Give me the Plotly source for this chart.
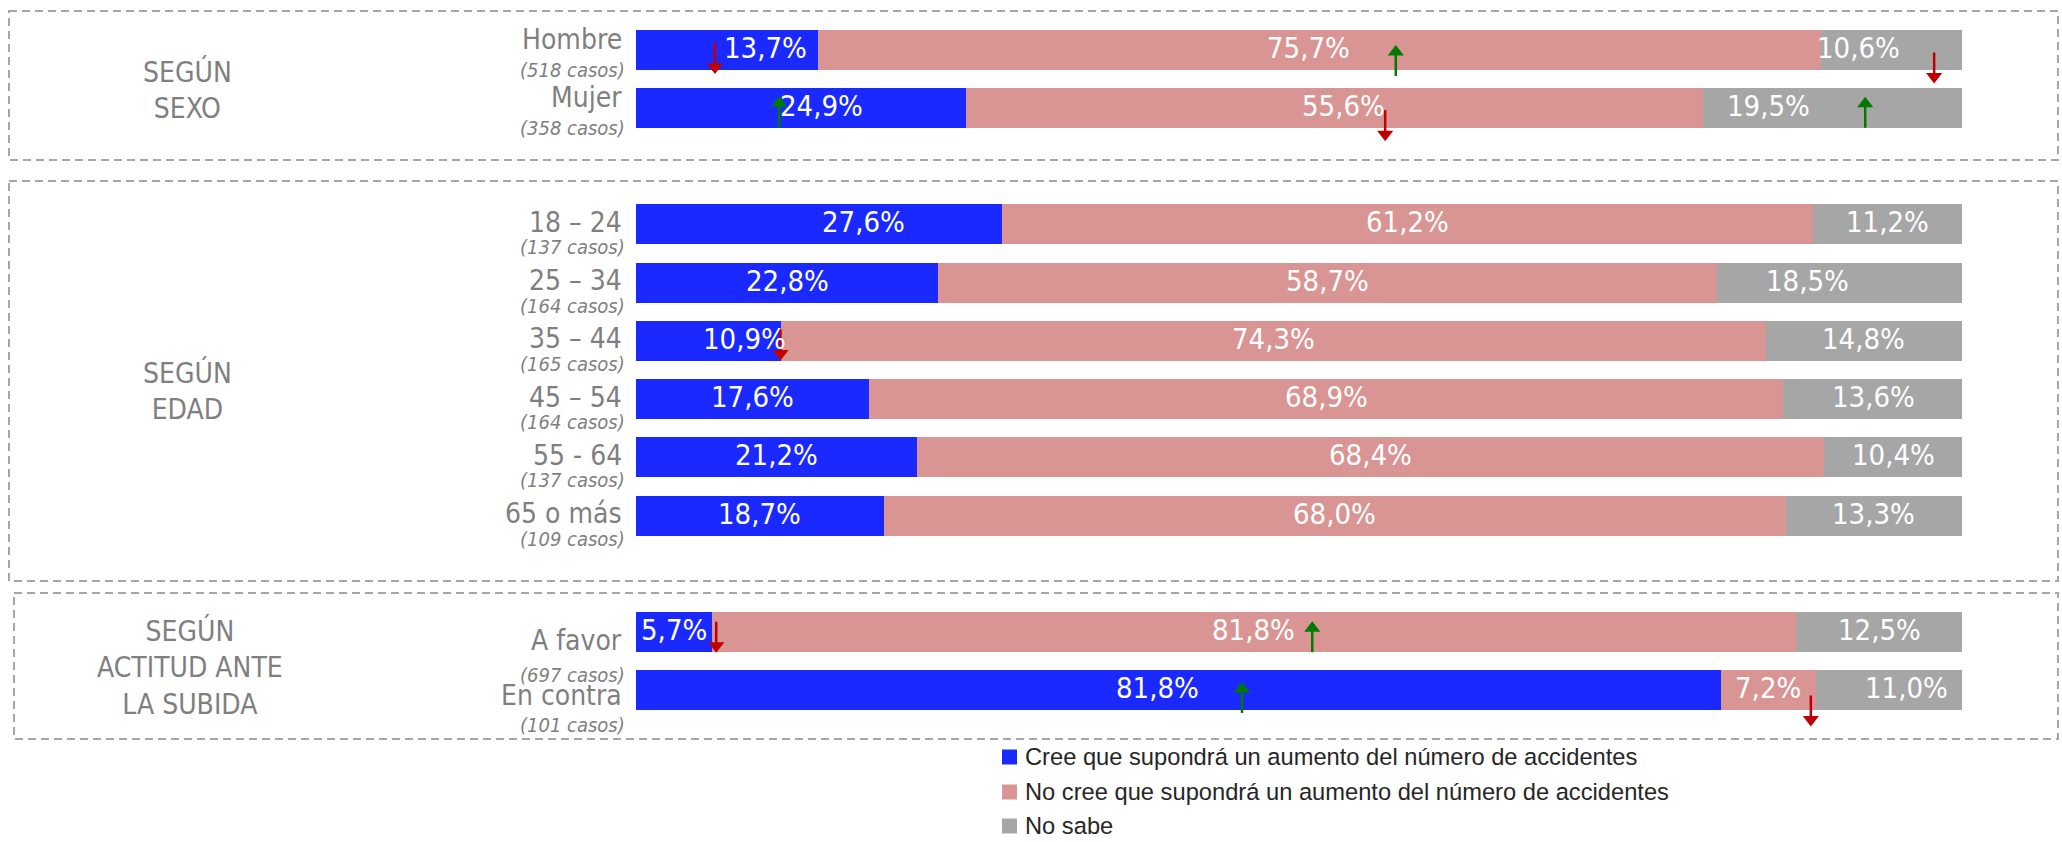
import plotly.graph_objects as go

# ---------------- data ----------------
categories = ["Hombre", "Mujer", "18 – 24", "25 – 34", "35 – 44", "45 – 54",
              "55 - 64", "65 o más", "A favor", "En contra"]
casos = [518, 358, 137, 164, 165, 164, 137, 109, 697, 101]
group_of = ["sexo", "sexo", "edad", "edad", "edad", "edad", "edad", "edad",
            "actitud", "actitud"]
group_titles = {"sexo": "SEGÚN<br>SEXO",
                "edad": "SEGÚN<br>EDAD",
                "actitud": "SEGÚN<br>ACTITUD ANTE<br>LA SUBIDA"}

series_names = ["Cree que supondrá un aumento del número de accidentes",
                "No cree que supondrá un aumento del número de accidentes",
                "No sabe"]
cree = [13.7, 24.9, 27.6, 22.8, 10.9, 17.6, 21.2, 18.7, 5.7, 81.8]
no_cree = [75.7, 55.6, 61.2, 58.7, 74.3, 68.9, 68.4, 68.0, 81.8, 7.2]
no_sabe = [10.6, 19.5, 11.2, 18.5, 14.8, 13.6, 10.4, 13.3, 12.5, 11.0]

# significance arrows
arrow_cat = ["Hombre", "Hombre", "Hombre", "Mujer", "Mujer", "Mujer",
             "35 – 44", "A favor", "A favor", "En contra", "En contra"]
arrow_x = [5.95, 57.3, 97.9, 10.8, 56.5, 92.7, 10.9, 6.05, 51.0, 45.7, 88.6]
arrow_dir = ["down", "up", "down", "up", "down", "up", "down", "down", "up",
             "up", "down"]

# ---------------- layout constants ----------------
W, H = 2062, 842
X0_PX, X1_PX = 636, 1962          # plot area horizontal extent
ROW0_PX, PITCH_PX = 49.5, 58.27   # first bar centre and row pitch
BAR_H_PX = 40
ARROW_HEAD_DY = [22.5, -2.5, 32, -9.5, 31.4, -9, 17.7, 18.6, -9, -6.5, 34]
ARROW_LEN = 29
# horizontal nudges (px) of a few value labels, as in the original
LABEL_XSHIFT = {("Hombre", 0): 39, ("Hombre", 1): -11, ("Hombre", 2): -33,
                ("Mujer", 0): 20, ("Mujer", 1): 9, ("Mujer", 2): -64,
                ("18 – 24", 0): 45, ("25 – 34", 2): -32, ("35 – 44", 0): 36,
                ("En contra", 0): -21, ("En contra", 2): 17}
# legend rows (px from top) and x positions
LEG_ROWS_PX = [757, 792, 826]
LEG_SQ_X, LEG_SQ = 1002, 15
LEG_TXT_X = 1023

NARROW = "Liberation Sans Narrow, Arial Narrow, DejaVu Sans Condensed, sans-serif"
REGULAR = "Liberation Sans, Arial, sans-serif"
GREY_TXT = "#7f7f7f"
COLORS = ["#1a29ff", "#d99594", "#a6a6a6"]
RED, GREEN = "#c00000", "#007a00"

# slot positions: consecutive rows inside a group, one empty slot between groups
slots = []
s = 0
prev = None
for g in group_of:
    if prev is not None and g != prev:
        s += 1
    slots.append(s)
    s += 1
    prev = g
slot_of = dict(zip(categories, slots))

y_top = -ROW0_PX / PITCH_PX
y_bot = (H - ROW0_PX) / PITCH_PX


def px2y(px):
    """pixel offset (down positive) -> y data units"""
    return px / PITCH_PX


def fmt(v):
    return f"{v:.1f}%".replace(".", ",")


series_vals = [cree, no_cree, no_sabe]

fig = go.Figure()
for name, vals, col in zip(series_names, series_vals, COLORS):
    fig.add_trace(go.Bar(
        y=slots, x=vals, name=name, orientation="h",
        width=BAR_H_PX / PITCH_PX,
        marker=dict(color=col, line=dict(width=0)),
        hovertext=[fmt(v) for v in vals], hoverinfo="text+name",
        showlegend=False,
    ))

# arrows: shaft (line) + head (triangle marker)
for d, col, sym in [("down", RED, "triangle-down"), ("up", GREEN, "triangle-up")]:
    lx, ly, mx, my = [], [], [], []
    for cat, ax_, dd, dy in zip(arrow_cat, arrow_x, arrow_dir, ARROW_HEAD_DY):
        if dd != d:
            continue
        base = slot_of[cat]
        if d == "down":
            tail, shaft_end, head_c = dy - ARROW_LEN, dy - 7, dy - 5
        else:
            tail, shaft_end, head_c = dy + ARROW_LEN, dy + 7, dy + 5
        lx += [ax_, ax_, None]
        ly += [base + px2y(tail), base + px2y(shaft_end), None]
        mx.append(ax_)
        my.append(base + px2y(head_c))
    fig.add_trace(go.Scatter(x=lx, y=ly, mode="lines", showlegend=False,
                             line=dict(color=col, width=2.5),
                             hoverinfo="skip", cliponaxis=False))
    fig.add_trace(go.Scatter(x=mx, y=my, mode="markers", showlegend=False,
                             marker=dict(symbol=sym, size=14, color=col,
                                         line=dict(width=0)),
                             hoverinfo="skip", cliponaxis=False))

annotations = []
shapes = []

# value labels (centred on each segment, some nudged as in the original)
for i, cat in enumerate(categories):
    left = 0.0
    for j, vals in enumerate(series_vals):
        v = vals[i]
        annotations.append(dict(
            x=left + v / 2, xref="x", y=slots[i], yref="y", yshift=2,
            xshift=LABEL_XSHIFT.get((cat, j), 0),
            text=fmt(v), showarrow=False, xanchor="center", yanchor="middle",
            font=dict(family=NARROW, size=29, color="white")))
        left += v

# category labels
name_dy = {"sexo": -10, "edad": -2, "actitud": 8}
casos_dy = {"sexo": 20.5, "edad": 23, "actitud": 43}
name_dy_row = {"En contra": 5}
casos_dy_row = {"En contra": 35}
for cat, n, g, sl in zip(categories, casos, group_of, slots):
    annotations.append(dict(
        x=624 / W, xref="paper", y=sl, yref="y",
        yshift=-name_dy_row.get(cat, name_dy[g]),
        text=cat, showarrow=False, xanchor="right", yanchor="middle",
        font=dict(family=NARROW, size=28, color=GREY_TXT)))
    annotations.append(dict(
        x=627 / W, xref="paper", y=sl, yref="y",
        yshift=-casos_dy_row.get(cat, casos_dy[g]),
        text=f"<i>({n} casos)</i>", showarrow=False, xanchor="right",
        yanchor="middle",
        font=dict(family=NARROW, size=20, color=GREY_TXT)))

# group titles
title_pos = {"sexo": (187, 90), "edad": (187, 391), "actitud": (190, 667)}
for g, t in group_titles.items():
    px, py = title_pos[g]
    annotations.append(dict(
        x=px / W, xref="paper", y=1 - py / H, yref="paper", text=t,
        showarrow=False, xanchor="center", yanchor="middle", align="center",
        font=dict(family=NARROW, size=28, color=GREY_TXT)))

# legend (drawn by hand so it can sit right at the bottom edge)
for name, col, ry in zip(series_names, COLORS, LEG_ROWS_PX):
    shapes.append(dict(
        type="rect", xref="paper", yref="paper",
        x0=LEG_SQ_X / W, x1=(LEG_SQ_X + LEG_SQ) / W,
        y0=1 - (ry - LEG_SQ / 2) / H, y1=1 - (ry + LEG_SQ / 2) / H,
        line=dict(width=0), fillcolor=col))
    annotations.append(dict(
        x=LEG_TXT_X / W, xref="paper", y=1 - ry / H, yref="paper",
        text=name, showarrow=False, xanchor="left", yanchor="middle",
        font=dict(family=REGULAR, size=23.7, color="#262626")))

# dashed group boxes
boxes = [(9, 11, 2058, 160), (9, 181, 2058, 581), (14, 593, 2058, 739)]
for x0, y0, x1, y1 in boxes:
    shapes.append(dict(
        type="rect", xref="paper", yref="paper",
        x0=x0 / W, x1=x1 / W, y0=1 - y0 / H, y1=1 - y1 / H,
        line=dict(color="#a6a6a6", width=2, dash="8px,5px"),
        fillcolor="rgba(0,0,0,0)", layer="below"))

fig.update_layout(
    width=W, height=H,
    margin=dict(l=0, r=0, t=0, b=0),
    barmode="stack", bargap=0,
    paper_bgcolor="white", plot_bgcolor="white",
    xaxis=dict(domain=[X0_PX / W, X1_PX / W], range=[0, 100], visible=False,
               fixedrange=True),
    yaxis=dict(domain=[0, 1], range=[y_bot, y_top], visible=False,
               fixedrange=True),
    showlegend=False,
    annotations=annotations,
    shapes=shapes,
)

# remove the browser's default 8px body margin so the figure fills the window
fig.write_html("out.html", config={"displayModeBar": False},
               post_script="document.body.style.margin='0';"
                           "document.body.style.overflow='hidden';")
